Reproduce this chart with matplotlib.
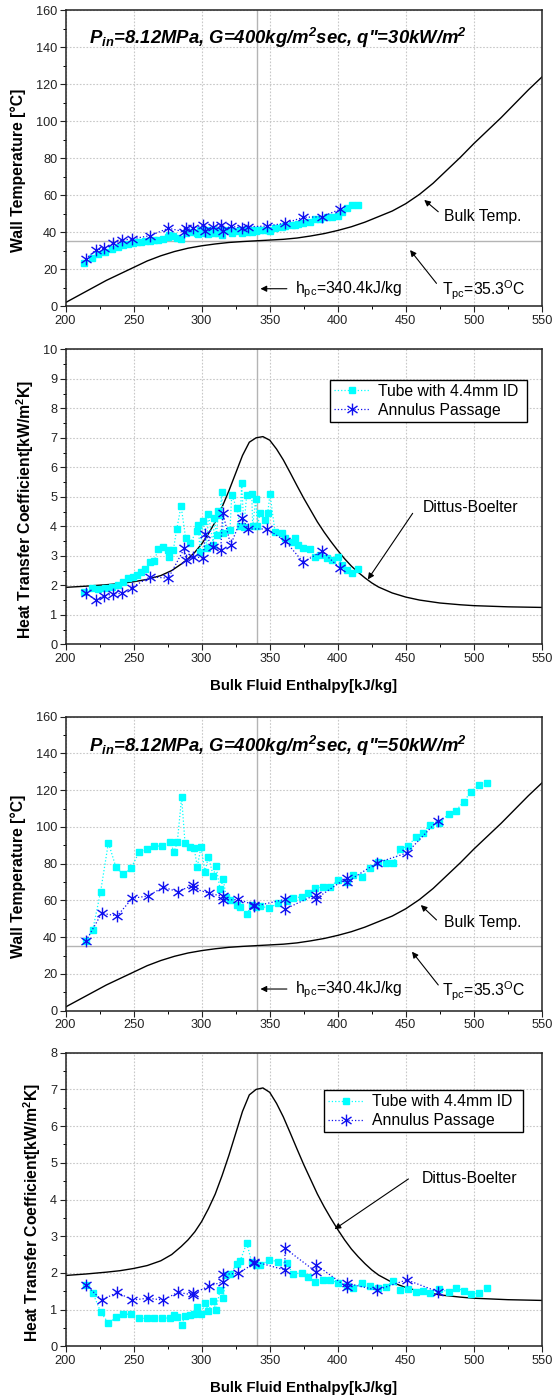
import matplotlib
matplotlib.use("Agg")
import matplotlib.pyplot as plt
from matplotlib.path import Path
from matplotlib.ticker import MultipleLocator

plt.rcParams['font.family'] = ['Liberation Sans', 'DejaVu Sans']
plt.rcParams['mathtext.fontset'] = 'custom'
plt.rcParams['mathtext.rm'] = 'Liberation Sans'
plt.rcParams['mathtext.it'] = 'Liberation Sans:italic'
plt.rcParams['mathtext.bf'] = 'Liberation Sans:bold:italic'
plt.rcParams['mathtext.sf'] = 'Liberation Sans:bold'

# ---------------- data: q" = 30 kW/m2 ----------------
tube30_h = [213.3, 219.2, 224.1, 229.0, 233.9, 238.8, 242.5, 246.1, 249.8, 252.3,
            255.2, 258.4, 262.3, 265.0, 268.2, 271.8, 275.5, 276.3, 279.2, 281.7,
            284.9, 288.3, 291.4, 296.4, 297.6, 298.8, 301.2, 303.8, 304.9, 308.6,
            309.1, 311.0, 312.3, 313.5, 314.8, 315.9, 320.8, 322.1, 325.8, 328.2,
            329.4, 331.0, 333.1, 336.8, 337.5, 339.7, 341.0, 342.9, 346.5, 348.5,
            350.2, 353.9, 358.8, 361.2, 366.1, 368.5, 371.0, 374.7, 379.6, 383.3,
            386.9, 391.8, 395.5, 400.4, 402.9, 406.5, 410.2, 414.5]
tube30_tw = [23.5, 26.0, 28.0, 29.5, 31.0, 32.0, 33.0, 33.5, 34.0, 34.5,
             35.0, 35.5, 35.5, 36.0, 36.0, 36.5, 37.5, 38.5, 38.0, 37.0,
             36.5, 39.5, 40.0, 39.5, 39.0, 41.0, 39.5, 41.0, 39.0, 41.0,
             39.5, 40.5, 39.5, 40.0, 38.5, 41.0, 41.0, 39.5, 40.5, 41.0,
             39.5, 41.0, 40.0, 40.0, 41.5, 40.5, 41.5, 41.0, 41.5, 41.5,
             40.5, 42.5, 43.0, 43.5, 44.0, 44.0, 44.5, 45.0, 45.5, 47.0,
             47.0, 48.0, 48.5, 49.0, 51.0, 53.0, 55.0, 55.0]
tube30_htc = [1.78, 1.90, 1.86, 1.90, 1.93, 2.01, 2.12, 2.24, 2.29, 2.35,
              2.46, 2.54, 2.80, 2.83, 3.22, 3.29, 3.20, 2.97, 3.20, 3.90,
              4.69, 3.59, 3.42, 3.84, 4.04, 3.14, 4.18, 3.25, 4.41, 3.37,
              4.29, 3.70, 4.53, 4.38, 5.15, 3.78, 3.87, 5.06, 4.61, 4.01,
              5.48, 3.98, 5.06, 5.09, 4.00, 4.92, 4.00, 4.44, 4.21, 4.44,
              5.09, 3.82, 3.76, 3.59, 3.48, 3.60, 3.37, 3.25, 3.22, 2.95,
              3.03, 2.92, 2.85, 2.95, 2.69, 2.52, 2.41, 2.55]

ann30_h = [214.8, 222.2, 228.5, 235.1, 241.7, 248.6, 262.1, 275.5, 287.3, 288.5,
           293.9, 301.2, 302.5, 308.1, 314.0, 315.5, 321.3, 329.4, 334.3, 347.8,
           361.2, 374.7, 388.2, 401.6]
ann30_tw = [25.6, 30.4, 31.3, 34.0, 35.8, 36.4, 38.2, 42.2, 40.3, 42.2,
            42.5, 43.9, 40.9, 43.0, 43.9, 40.9, 43.4, 42.2, 43.0, 43.4,
            44.9, 48.1, 48.4, 52.4]
ann30_htc = [1.75, 1.50, 1.64, 1.71, 1.73, 1.92, 2.29, 2.24, 3.25, 2.86,
             2.97, 2.92, 3.74, 3.31, 3.20, 4.46, 3.37, 4.29, 3.91, 3.91,
             3.51, 2.78, 3.16, 2.58]

# ---------------- data: q" = 50 kW/m2 ----------------
tube50_h = [214.8, 220.0, 225.8, 231.5, 237.1, 242.5, 248.1, 254.2, 259.6, 265.2,
            271.1, 276.8, 279.7, 282.1, 285.3, 287.8, 291.4, 294.4, 296.8, 299.5,
            302.5, 304.9, 308.6, 310.5, 313.5, 315.9, 318.0, 320.8, 325.8, 328.2,
            333.1, 336.8, 340.0, 343.2, 349.7, 356.3, 362.5, 367.3, 373.5, 378.4,
            383.3, 389.4, 394.3, 400.4, 406.5, 411.4, 417.6, 423.7, 429.8, 435.4,
            440.8, 445.7, 451.8, 457.5, 462.8, 467.4, 474.0, 481.6, 486.8, 492.4,
            497.9, 503.6, 509.5]
tube50_tw = [37.9, 43.9, 64.8, 91.4, 78.0, 74.2, 77.5, 86.5, 87.8, 89.6,
             89.6, 92.0, 86.5, 91.6, 116.1, 91.1, 88.9, 88.7, 78.4, 88.9,
             75.6, 83.8, 73.3, 78.9, 66.1, 71.5, 62.0, 60.2, 57.5, 56.3,
             52.6, 57.5, 56.5, 57.0, 55.7, 58.8, 59.9, 61.2, 62.0, 63.9,
             66.6, 67.5, 67.5, 71.1, 70.2, 73.9, 72.8, 77.5, 81.1, 80.2,
             80.5, 87.8, 89.8, 94.7, 96.9, 101.1, 102.0, 107.0, 108.8, 113.7,
             119.2, 122.8, 123.7]
tube50_htc = [1.68, 1.46, 0.94, 0.63, 0.79, 0.88, 0.87, 0.76, 0.76, 0.76,
              0.78, 0.76, 0.85, 0.79, 0.58, 0.83, 0.85, 0.87, 1.06, 0.87,
              1.17, 0.97, 1.24, 0.99, 1.53, 1.32, 1.94, 1.97, 2.23, 2.32,
              2.81, 2.30, 2.22, 2.22, 2.35, 2.31, 2.26, 1.97, 2.00, 1.90,
              1.75, 1.80, 1.80, 1.73, 1.65, 1.60, 1.73, 1.64, 1.58, 1.62,
              1.78, 1.53, 1.55, 1.47, 1.50, 1.44, 1.55, 1.49, 1.58, 1.52,
              1.43, 1.44, 1.60]

ann50_h = [215.1, 226.6, 238.0, 249.1, 260.4, 271.8, 282.4, 293.9, 293.9, 305.4,
           315.9, 315.9, 326.9, 338.7, 338.7, 361.2, 361.2, 384.0, 384.0, 406.5,
           406.5, 428.6, 450.6, 473.4]
ann50_tw = [38.1, 53.0, 51.6, 61.2, 62.4, 67.2, 64.8, 68.4, 66.6, 63.9,
            62.2, 60.0, 60.6, 57.5, 56.8, 60.6, 55.3, 63.2, 61.0, 72.2,
            70.0, 80.4, 85.8, 103.5]
ann50_htc = [1.67, 1.26, 1.47, 1.26, 1.31, 1.26, 1.47, 1.40, 1.44, 1.64,
             1.76, 1.96, 1.99, 2.26, 2.31, 2.08, 2.67, 2.03, 2.22, 1.62,
             1.72, 1.53, 1.81, 1.49]

# ---------------- reference curves ----------------
bulk_h = [200, 210, 220, 230, 240, 250, 260, 270, 280, 290, 300, 310, 320, 330,
          340, 350, 360, 370, 380, 390, 400, 410, 420, 430, 440, 450, 460, 470,
          480, 490, 500, 510, 520, 530, 540, 550]
bulk_t = [2.0, 6.0, 10.0, 14.0, 17.5, 21.0, 24.5, 27.3, 29.6, 31.4, 32.7, 33.7,
          34.5, 35.0, 35.4, 35.8, 36.2, 36.9, 38.0, 39.3, 41.0, 43.0, 45.5, 48.5,
          51.5, 55.5, 60.5, 66.5, 73.5, 80.5, 88.0, 95.0, 102.0, 109.5, 117.0, 124.0]

db_h = [200, 215, 230, 240, 250, 260, 270, 278, 285, 290, 295, 300, 305, 310,
        315, 320, 325, 330, 335, 340, 345, 350, 355, 360, 365, 370, 375, 380,
        385, 390, 395, 400, 405, 410, 415, 420, 425, 430, 440, 450, 460, 475,
        490, 500, 525, 550]
db_htc = [1.93, 1.97, 2.02, 2.06, 2.12, 2.20, 2.33, 2.50, 2.72, 2.90, 3.12, 3.40,
          3.75, 4.15, 4.65, 5.20, 5.80, 6.40, 6.85, 7.00, 7.04, 6.92, 6.62, 6.25,
          5.82, 5.38, 4.95, 4.55, 4.15, 3.80, 3.48, 3.18, 2.90, 2.65, 2.44, 2.25,
          2.08, 1.94, 1.74, 1.60, 1.50, 1.40, 1.34, 1.31, 1.27, 1.25]

h_pc = 340.4
t_pc = 35.3
x_ticks = [200, 250, 300, 350, 400, 450, 500, 550]

# ---------------- styles ----------------
CYAN = '#00ffff'
BLUE = '#1010f0'
GRAY = '#b4b4b4'
star = Path([(0, -1), (0, 1), (-0.85, -0.6), (0.85, 0.6), (-0.85, 0.6), (0.85, -0.6)],
            [Path.MOVETO, Path.LINETO] * 3)

W, H = 552, 1398
fig = plt.figure(figsize=(W / 100, H / 100), dpi=100)


def make_ax(top, bottom, left=65.5, right=542.0):
    return fig.add_axes([left / W, 1 - bottom / H, (right - left) / W, (bottom - top) / H])


def style_ax(ax, ymax, ymajor, yminor):
    ax.set_xlim(200, 550)
    ax.set_ylim(0, ymax)
    ax.set_xticks(x_ticks)
    ax.xaxis.set_minor_locator(MultipleLocator(25))
    ax.yaxis.set_major_locator(MultipleLocator(ymajor))
    ax.yaxis.set_minor_locator(MultipleLocator(yminor))
    ax.grid(True, which='major', color='#c8c8c8', linestyle=(0, (1.5, 1.5)), linewidth=0.8)
    ax.set_axisbelow(True)
    ax.tick_params(which='major', direction='out', length=4, width=0.8, labelsize=9.2,
                   pad=2, colors='#222222')
    ax.tick_params(which='minor', direction='out', length=2.5, width=0.7)
    for s in ax.spines.values():
        s.set_linewidth(1.1)
        s.set_color('#222222')
    ax.axvline(h_pc, color=GRAY, lw=1.0, zorder=1.5)


def plot_series(ax, th, tv, ah, av):
    ax.plot(th, tv, linestyle=':', color=CYAN, lw=0.9, marker='s', ms=5.0,
            mfc=CYAN, mec=CYAN, label='Tube with 4.4mm ID', zorder=3)
    ax.plot(ah, av, linestyle=':', color=BLUE, lw=0.9, marker=star, ms=8.5,
            mec=BLUE, mew=1.0, label='Annulus Passage', zorder=4)


arrow = dict(arrowstyle='-|>', color='k', lw=0.8, mutation_scale=9, shrinkA=0, shrinkB=0)


def temp_panel(ax, th, tv, ah, av, qtext, title_y, hpc_y, tpc_y, bulk_y, arr1, arr2):
    style_ax(ax, 160, 20, 10)
    ax.axhline(t_pc, color=GRAY, lw=1.0, zorder=1.5)
    ax.plot(bulk_h, bulk_t, color='k', lw=1.0, zorder=2)
    plot_series(ax, th, tv, ah, av)
    ax.text(0.446, title_y,
            r'P$_{\mathbf{in}}$=8.12MPa, G=400kg/m$^{\mathbf{2}}$sec, q"=' + qtext + r'kW/m$^{\mathbf{2}}$',
            transform=ax.transAxes, ha='center', va='baseline', fontsize=13.3,
            fontweight='bold', style='italic')
    ax.text(-0.1, 0.458, 'Wall Temperature [°C]', transform=ax.transAxes, rotation=90,
            ha='center', va='center', fontsize=11.3, fontweight='bold')
    ax.text(368.6, hpc_y, r'h$_{\mathrm{pc}}$=340.4kJ/kg', ha='left', va='baseline', fontsize=11.3)
    ax.annotate('', xy=(343.2, hpc_y + 2.3), xytext=(362.6, hpc_y + 2.3), arrowprops=arrow)
    ax.text(476.4, tpc_y, r'T$_{\mathrm{pc}}$=35.3$^{\mathrm{O}}$C', ha='left', va='baseline', fontsize=11.3)
    ax.annotate('', xy=arr2[1], xytext=arr2[0], arrowprops=arrow)
    ax.text(477.7, bulk_y, 'Bulk Temp.', ha='left', va='center', fontsize=11.3)
    ax.annotate('', xy=arr1[1], xytext=arr1[0], arrowprops=arrow)


def htc_panel(ax, ymax, th, tv, ah, av, leg_box, db_xy, db_arrow, ylab_x):
    style_ax(ax, ymax, 1, 0.5)
    ax.plot(db_h, db_htc, color='k', lw=1.0, zorder=2)
    plot_series(ax, th, tv, ah, av)
    ax.text(ylab_x, 0.456, r'Heat Transfer Coefficient[kW/m$^{\mathsf{2}}$K]', transform=ax.transAxes,
            rotation=90, ha='center', va='center', fontsize=11.3, fontweight='bold')
    ax.text(0.5, -0.143, 'Bulk Fluid Enthalpy[kJ/kg]', transform=ax.transAxes,
            ha='center', va='center', fontsize=10.8, fontweight='bold')
    ax.text(db_xy[0], db_xy[1], 'Dittus-Boelter', ha='left', va='center', fontsize=11.3)
    ax.annotate('', xy=db_arrow[1], xytext=db_arrow[0], arrowprops=arrow)
    leg = ax.legend(loc='lower left', bbox_to_anchor=leg_box, mode='expand', fontsize=11.3,
                    frameon=True, fancybox=False, edgecolor='k', framealpha=1,
                    handlelength=2.3, handletextpad=0.5, borderpad=0.25,
                    labelspacing=0.25, borderaxespad=0)
    leg.get_frame().set_linewidth(1.0)


ax1 = make_ax(10.3, 306.3)
temp_panel(ax1, tube30_h, tube30_tw, ann30_h, ann30_tw, '30', 0.885,
           hpc_y=7.2, tpc_y=6.1, bulk_y=48.8,
           arr1=((473.8, 51.1), (463.5, 57.5)), arr2=((472.5, 12.4), (453.1, 30.4)))

ax2 = make_ax(349.3, 644.3)
htc_panel(ax2, 10, tube30_h, tube30_htc, ann30_h, ann30_htc,
          (0.555, 0.755, 0.414, 0.135), (462.2, 4.63), ((455.0, 4.44), (422.1, 2.20)), -0.084)

ax3 = make_ax(716.7, 1010.7)
temp_panel(ax3, tube50_h, tube50_tw, ann50_h, ann50_tw, '50', 0.881,
           hpc_y=9.5, tpc_y=8.0, bulk_y=47.9,
           arr1=((472.5, 49.4), (461.0, 57.5)), arr2=((473.8, 14.0), (454.5, 32.1)))

ax4 = make_ax(1052.7, 1346.3)
htc_panel(ax4, 8, tube50_h, tube50_htc, ann50_h, ann50_htc,
          (0.542, 0.729, 0.419, 0.136), (461.4, 4.58), ((451.9, 4.56), (397.6, 3.19)), -0.07)

fig.savefig('out.png', dpi=100)
